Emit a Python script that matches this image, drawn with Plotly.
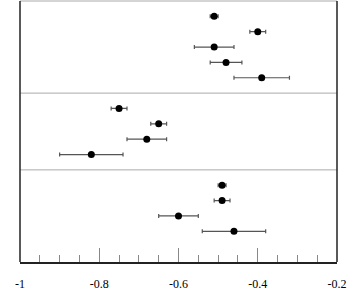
import plotly.graph_objects as go

# Data: three groups of estimates with symmetric error half-widths
group1_est = [-0.51, -0.40, -0.51, -0.48, -0.39]
group1_err = [0.01, 0.02, 0.05, 0.04, 0.07]
group2_est = [-0.75, -0.65, -0.68, -0.82]
group2_err = [0.02, 0.02, 0.05, 0.08]
group3_est = [-0.49, -0.49, -0.60, -0.46]
group3_err = [0.01, 0.02, 0.05, 0.08]

tick_vals = [-1, -0.8, -0.6, -0.4, -0.2]
tick_text = ["-1", "-0.8", "-0.6", "-0.4", "-0.2"]

groups = [(group1_est, group1_err), (group2_est, group2_err), (group3_est, group3_err)]

xs, es, ys, seps = [], [], [], []
row = 0
for gi, (est, err) in enumerate(groups):
    for v, e in zip(est, err):
        row += 1
        xs.append(v)
        es.append(e)
        ys.append(row)
    row += 1
    if gi < len(groups) - 1:
        seps.append(row)
total_rows = row + 1

fig = go.Figure()
fig.add_trace(go.Scatter(
    x=xs, y=ys, mode="markers",
    marker=dict(color="black", size=7),
    error_x=dict(type="data", array=es, visible=True, color="#555555", thickness=1.2, width=2),
    showlegend=False, hoverinfo="skip", cliponaxis=False,
))

shapes = []
for s in seps:
    shapes.append(dict(type="line", xref="paper", yref="y", x0=0, x1=1, y0=s, y1=s,
                       line=dict(color="#aaaaaa", width=1)))
shapes.append(dict(type="line", xref="paper", yref="paper", x0=0, x1=1, y0=1, y1=1,
                   line=dict(color="#aaaaaa", width=1)))
shapes.append(dict(type="line", xref="paper", yref="paper", x0=0, x1=0, y0=0, y1=1,
                   line=dict(color="#222222", width=1.5)))
shapes.append(dict(type="line", xref="paper", yref="paper", x0=1, x1=1, y0=0, y1=1,
                   line=dict(color="#222222", width=1.5)))

fig.update_layout(
    width=354, height=300,
    margin=dict(l=20, r=17, t=1, b=38, autoexpand=False),
    paper_bgcolor="white", plot_bgcolor="white",
    font=dict(family="Liberation Serif", size=12, color="black"),
    shapes=shapes,
    hovermode=False,
    xaxis=dict(
        range=[-1, -0.2], showgrid=False, zeroline=False, automargin=False,
        showline=True, linecolor="#222222", linewidth=1.5,
        tickmode="array", tickvals=tick_vals, ticktext=tick_text,
        ticks="inside", ticklen=14, tickcolor="#888888", tickwidth=1,
        ticklabelstandoff=10,
        minor=dict(dtick=0.05, tick0=-1, ticks="inside", ticklen=7, tickcolor="#888888", tickwidth=1, showgrid=False),
    ),
    yaxis=dict(range=[total_rows, 0], visible=False, showgrid=False, zeroline=False, automargin=False),
)

fig.write_html(
    "out.html",
    config={"displayModeBar": False, "staticPlot": True},
    post_script="document.body.style.margin='0';document.body.style.padding='0';document.body.style.overflow='hidden';",
)
